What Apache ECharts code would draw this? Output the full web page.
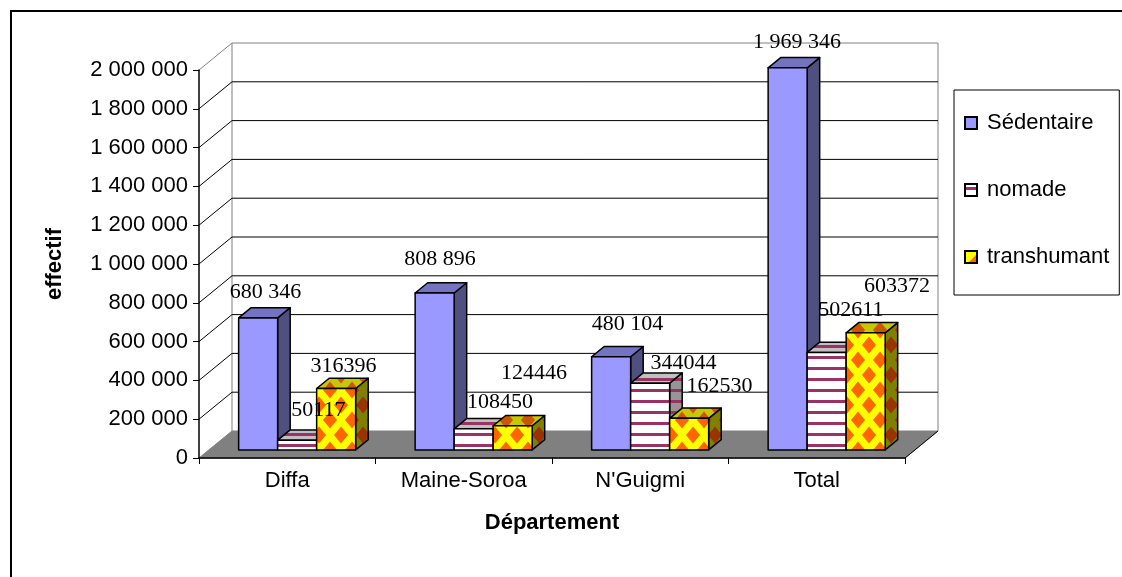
<!DOCTYPE html>
<html>
<head>
<meta charset="utf-8">
<script src="https://cdn.jsdelivr.net/npm/echarts@6/dist/echarts.min.js"></script>
<style>
  html, body { margin: 0; padding: 0; background: #fff; }
  #chart { width: 1122px; height: 577px; }
</style>
</head>
<body>
<div id="chart"></div>
<script>
// ---- data ----
const departements = ['Diffa', 'Maine-Soroa', "N'Guigmi", 'Total'];
const sedentaire   = [680346, 808896, 480104, 1969346];
const nomade       = [50117, 108450, 344044, 502611];
const transhumant  = [316396, 124446, 162530, 603372];
const valueTicks   = [0, 200000, 400000, 600000, 800000, 1000000, 1200000, 1400000, 1600000, 1800000, 2000000];
const seriesNames  = ['Sédentaire', 'nomade', 'transhumant'];

// ---- 3D layout (pixels) ----
const DEPTH = [33, -27];          // front plane -> back wall
const BOX_F = [0.30, 0.68];       // box front / back as fraction of DEPTH
const BOX_W = 0.221;              // box width as fraction of a category band
// label nudges [dx, dy] from the centre of each box top, per series / category
const labelShift = [
  [[1, -21], [-1, -29], [10, -27], [3, -20]],
  [[15, -25], [20, -22], [27, -15], [18, -37]],
  [[1, -17], [15, -47], [24, -27], [25, -41]]
];

function tile(w, h, draw) {
  const c = document.createElement('canvas');
  c.width = w; c.height = h;
  const g = c.getContext('2d');
  draw(g, w, h);
  return c;
}
function stripes(bg, fg) {
  return { image: tile(8, 11, (g, w, h) => {
    g.fillStyle = bg; g.fillRect(0, 0, w, h);
    g.fillStyle = fg; g.fillRect(0, 4, w, 3);
  }), repeat: 'repeat' };
}
function diamonds(bg, fg) {
  return { image: tile(22, 30, (g, w, h) => {
    g.fillStyle = bg; g.fillRect(0, 0, w, h);
    g.fillStyle = fg;
    const d = (cx, cy) => {
      g.beginPath();
      g.moveTo(cx, cy - 8.5); g.lineTo(cx + 7, cy);
      g.lineTo(cx, cy + 8.5); g.lineTo(cx - 7, cy);
      g.closePath(); g.fill();
    };
    d(11, 15); d(0, 0); d(22, 0); d(0, 30); d(22, 30);
  }), repeat: 'repeat' };
}

const faces = [
  { front: '#9999FF', side: '#4F4F80', top: '#7373BF' },
  { front: stripes('#FFFFFF', '#993366'), side: stripes('#969696', '#993366'), top: stripes('#C0C0C0', '#993366') },
  { front: diamonds('#FFFF00', '#FF6600'), side: diamonds('#808000', '#993300'), top: diamonds('#C8C800', '#CC5500') }
];

function legendIcon(kind) {
  const c = tile(14, 14, (g, w, h) => {
    if (kind === 0) { g.fillStyle = '#9999FF'; g.fillRect(0, 0, w, h); }
    if (kind === 1) {
      g.fillStyle = '#FFFFFF'; g.fillRect(0, 0, w, h);
      g.fillStyle = '#993366'; g.fillRect(0, 4, w, 3);
    }
    if (kind === 2) {
      g.fillStyle = '#FFFF00'; g.fillRect(0, 0, w, h);
      g.fillStyle = '#FF6600';
      g.beginPath(); g.moveTo(w, 3); g.lineTo(w, h); g.lineTo(3, h); g.closePath(); g.fill();
    }
    g.strokeStyle = '#000'; g.lineWidth = 2; g.strokeRect(1, 1, w - 2, h - 2);
  });
  return 'image://' + c.toDataURL();
}

const withSpaces = v => String(v).replace(/\B(?=(\d{3})+(?!\d))/g, ' ');
const shift = (p, f) => [p[0] + DEPTH[0] * f, p[1] + DEPTH[1] * f];

function boxRenderer(s) {
  return function (params, api) {
    const cat = api.value(0), val = api.value(1);
    const base = api.coord([cat, 0]);
    const top = api.coord([cat, val]);
    const band = api.size([1, 0])[0];
    const bw = band * BOX_W;
    const x0 = base[0] - 1.5 * bw + s * bw, x1 = x0 + bw;
    const yb = base[1], yt = top[1];
    const [f1, f2] = BOX_F;
    const line = { stroke: '#000', lineWidth: 1.5, lineJoin: 'round' };
    const poly = (pts, fill) => ({ type: 'polygon', z2: 1, shape: { points: pts }, style: Object.assign({ fill }, line) });
    const front = [shift([x0, yt], f1), shift([x1, yt], f1), shift([x1, yb], f1), shift([x0, yb], f1)];
    const side = [shift([x1, yt], f1), shift([x1, yt], f2), shift([x1, yb], f2), shift([x1, yb], f1)];
    const cap = [shift([x0, yt], f1), shift([x1, yt], f1), shift([x1, yt], f2), shift([x0, yt], f2)];
    const mid = shift([(x0 + x1) / 2, yt], (f1 + f2) / 2);
    const nudge = labelShift[s][params.dataIndex];
    return {
      type: 'group',
      children: [
        poly(side, faces[s].side),
        poly(cap, faces[s].top),
        poly(front, faces[s].front),
        {
          type: 'text', z2: 100,
          style: {
            x: mid[0] + nudge[0], y: mid[1] + nudge[1],
            text: s === 0 ? withSpaces(val) : String(val),
            fill: '#000', fontSize: 22, fontFamily: '"Liberation Serif", "Times New Roman", serif',
            align: 'center', verticalAlign: 'middle'
          }
        }
      ]
    };
  };
}

// walls, floor and gridlines of the plot box
function wallRenderer(params, api) {
  const v = api.value(1);
  const band = api.size([1, 0])[0];
  const pl = api.coord([0, v]); pl[0] -= band / 2;
  const pr = api.coord([departements.length - 1, v]); pr[0] += band / 2;
  const bl = shift(pl, 1), br = shift(pr, 1);
  const gray = '#808080';
  const ln = (a, b, c) => ({ type: 'line', shape: { x1: a[0], y1: a[1], x2: b[0], y2: b[1] }, style: { stroke: c, lineWidth: 1 } });
  const vMax = valueTicks[valueTicks.length - 1];
  if (v === 0) {
    const tl = api.coord([0, vMax]); tl[0] -= band / 2;
    const tr = api.coord([departements.length - 1, vMax]); tr[0] += band / 2;
    const btl = shift(tl, 1), btr = shift(tr, 1);
    return {
      type: 'group', children: [
        { type: 'polygon', shape: { points: [pl, pr, br, bl] }, style: { fill: gray, stroke: gray, lineWidth: 1 } },
        ln(br, pr, '#000'),
        ln(bl, btl, gray),
        ln(br, btr, gray)
      ]
    };
  }
  const c = v === vMax ? gray : '#000';
  return { type: 'group', children: [ln(pl, bl, c), ln(bl, br, c)] };
}

const chart = echarts.init(document.getElementById('chart'), null, { renderer: 'canvas' });
const sansFont = '"Liberation Sans", Arial, sans-serif';

chart.setOption({
  backgroundColor: '#fff',
  animation: false,
  graphic: [{
    type: 'rect', z: 0, silent: true,
    shape: { x: 11, y: 11, width: 1200, height: 700 },
    style: { fill: 'none', stroke: '#000', lineWidth: 2 }
  }],
  grid: { left: 199, right: 217, top: 70, bottom: 119, containLabel: false, outerBoundsMode: 'none' },
  legend: {
    orient: 'vertical', left: 954, top: 90,
    padding: [22, 10, 27, 10],
    itemWidth: 14, itemHeight: 14, itemGap: 45,
    borderColor: '#000', borderWidth: 1, backgroundColor: '#fff',
    selectedMode: false,
    textStyle: { fontFamily: sansFont, fontSize: 22, color: '#000', lineHeight: 22, padding: [0, 0, 0, 4] },
    data: seriesNames.map((n, i) => ({ name: n, icon: legendIcon(i) }))
  },
  xAxis: {
    type: 'category', data: departements, z: 5,
    name: 'Département', nameLocation: 'middle', nameGap: 54,
    nameTextStyle: { fontFamily: sansFont, fontSize: 22, fontWeight: 'bold', color: '#000' },
    axisLine: { lineStyle: { color: '#000', width: 1.5 } },
    axisTick: { show: true, length: 6, lineStyle: { color: '#000' } },
    axisLabel: { fontFamily: sansFont, fontSize: 22, color: '#000', margin: 12 },
    splitLine: { show: false }
  },
  yAxis: {
    type: 'value', z: 5,
    min: valueTicks[0], max: valueTicks[valueTicks.length - 1], interval: valueTicks[1] - valueTicks[0],
    name: 'effectif', nameLocation: 'middle', nameRotate: 90, nameGap: 133,
    nameTextStyle: { fontFamily: sansFont, fontSize: 22, fontWeight: 'bold', color: '#000' },
    axisLine: { show: true, lineStyle: { color: '#000', width: 1.5 } },
    axisTick: { show: true, length: 6, lineStyle: { color: '#000' } },
    axisLabel: { fontFamily: sansFont, fontSize: 22, color: '#000', margin: 11, formatter: withSpaces },
    splitLine: { show: false }
  },
  series: [
    {
      type: 'custom', name: 'walls', z: 1, silent: true, clip: false,
      renderItem: wallRenderer,
      data: valueTicks.map(v => [0, v])
    },
    ...[sedentaire, nomade, transhumant].map((vals, s) => ({
      type: 'custom', name: seriesNames[s], z: 2, clip: false,
      itemStyle: { color: s === 0 ? '#9999FF' : s === 1 ? '#993366' : '#FFFF00' },
      renderItem: boxRenderer(s),
      data: vals.map((v, i) => [i, v])
    }))
  ]
});
</script>
</body>
</html>
